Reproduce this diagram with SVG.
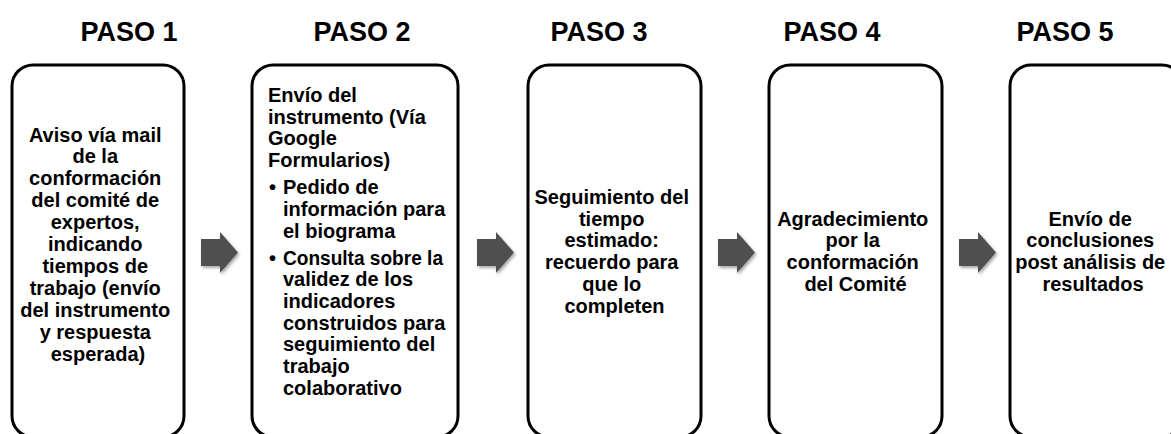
<svg xmlns="http://www.w3.org/2000/svg" width="1171" height="434" viewBox="0 0 1171 434">
<style>
.hdr{font-family:"Liberation Sans",Arial,sans-serif;font-weight:bold;font-size:27px;fill:#000;text-anchor:middle}
.box{fill:#fff;stroke:#000;stroke-width:3}
.t{font-family:"Liberation Sans",Arial,sans-serif;font-weight:bold;font-size:20px;fill:#000}
.c{text-anchor:middle}
.arrow{fill:#4f4f4f}
</style>
<defs>
<filter id="sh" x="-30%" y="-30%" width="160%" height="160%">
<feDropShadow dx="1.5" dy="2" stdDeviation="1.5" flood-color="#000" flood-opacity="0.35"/>
</filter>
<path id="arr" d="M0,-13.5 H19 V-20.5 L37,0 L19,20.5 V13.5 H0 Z"/>
</defs>
<rect width="1171" height="434" fill="#fff"/>

<g id="headers">
<text class="hdr" x="129" y="41">PASO 1</text>
<text class="hdr" x="362" y="41">PASO 2</text>
<text class="hdr" x="599" y="41">PASO 3</text>
<text class="hdr" x="832" y="41">PASO 4</text>
<text class="hdr" x="1065" y="41">PASO 5</text>
</g>

<g id="node1">
<rect class="box" x="12" y="65" width="172" height="372" rx="21"/>
<text class="t c" x="98">
<tspan x="98" y="141.5">Aviso vía mail</tspan>
<tspan x="98" y="163.4">de la</tspan>
<tspan x="98" y="185.3">conformación</tspan>
<tspan x="98" y="207.2">del comité de</tspan>
<tspan x="98" y="229.1">expertos,</tspan>
<tspan x="98" y="251">indicando</tspan>
<tspan x="98" y="272.9">tiempos de</tspan>
<tspan x="98" y="294.8">trabajo (envío</tspan>
<tspan x="98" y="316.7">del instrumento</tspan>
<tspan x="98" y="338.6">y respuesta</tspan>
<tspan x="98" y="360.5">esperada)</tspan>
</text>
</g>

<g id="node2">
<rect class="box" x="252" y="65" width="206" height="372" rx="21"/>
<text class="t">
<tspan x="268" y="102">Envío del</tspan>
<tspan x="268" y="123.7">instrumento (Vía</tspan>
<tspan x="268" y="145.4">Google</tspan>
<tspan x="268" y="167.1">Formularios)</tspan>
</text>
<text class="t"><tspan x="269" y="194.1">•</tspan><tspan x="283" y="194.1">Pedido de</tspan></text>
<text class="t">
<tspan x="283" y="215.8">información para</tspan>
<tspan x="283" y="237.5">el biograma</tspan>
</text>
<text class="t"><tspan x="269" y="264.5">•</tspan><tspan x="283" y="264.5" textLength="160" lengthAdjust="spacingAndGlyphs">Consulta sobre la</tspan></text>
<text class="t">
<tspan x="283" y="286.2">validez de los</tspan>
<tspan x="283" y="307.9">indicadores</tspan>
<tspan x="283" y="329.6">construidos para</tspan>
<tspan x="283" y="351.3">seguimiento del</tspan>
<tspan x="283" y="373">trabajo</tspan>
<tspan x="283" y="394.7">colaborativo</tspan>
</text>
</g>

<g id="node3">
<rect class="box" x="528" y="65" width="173" height="372" rx="21"/>
<text class="t c">
<tspan x="614.5" y="204">Seguimiento del</tspan>
<tspan x="614.5" y="225.7">tiempo</tspan>
<tspan x="614.5" y="247.4">estimado:</tspan>
<tspan x="614.5" y="269.1">recuerdo para</tspan>
<tspan x="614.5" y="290.8">que lo</tspan>
<tspan x="614.5" y="312.5">completen</tspan>
</text>
</g>

<g id="node4">
<rect class="box" x="769" y="65" width="173" height="372" rx="21"/>
<text class="t c">
<tspan x="855.5" y="225.5">Agradecimiento</tspan>
<tspan x="855.5" y="247.2">por la</tspan>
<tspan x="855.5" y="268.9">conformación</tspan>
<tspan x="855.5" y="290.6">del Comité</tspan>
</text>
</g>

<g id="node5">
<rect class="box" x="1010" y="65" width="173" height="372" rx="21"/>
<text class="t c">
<tspan x="1093" y="225.5">Envío de</tspan>
<tspan x="1093" y="247.2">conclusiones</tspan>
<tspan x="1093" y="268.9">post análisis de</tspan>
<tspan x="1093" y="290.6">resultados</tspan>
</text>
</g>

<g id="connectors" class="arrow" filter="url(#sh)">
<use href="#arr" x="201" y="252.5"/>
<use href="#arr" x="477" y="252.5"/>
<use href="#arr" x="718" y="252.5"/>
<use href="#arr" x="959" y="252.5"/>
</g>
</svg>
